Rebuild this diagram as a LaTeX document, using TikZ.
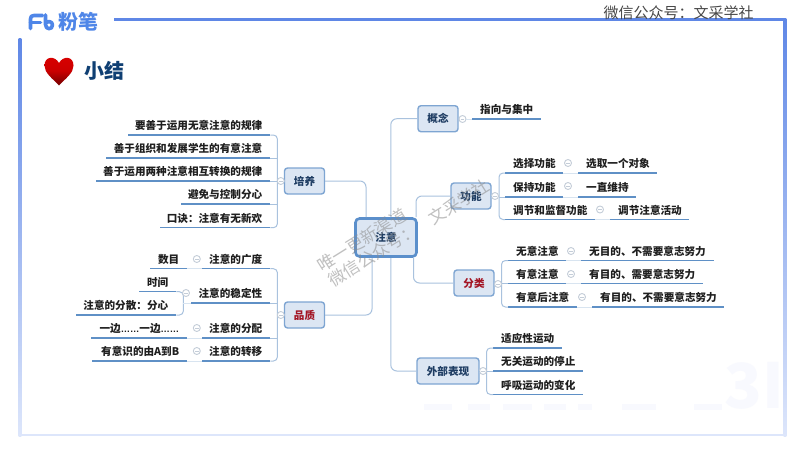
\documentclass[tikz,border=0pt]{standalone}
\usepackage{fontspec}
\setmainfont{Noto Sans CJK SC}
\newfontfamily\latinf{Liberation Sans}
\usetikzlibrary{calc}
\definecolor{frameblue}{HTML}{5F87E6}
\definecolor{framepale}{HTML}{DDE6FB}
\definecolor{boxfill}{HTML}{DCE6F3}
\definecolor{boxline}{HTML}{7EA5D2}
\definecolor{rootline}{HTML}{5B8FCB}
\definecolor{underl}{HTML}{5F90C6}
\definecolor{brack}{HTML}{A9C2DE}
\definecolor{foldc}{HTML}{C4CDD8}
\definecolor{labelc}{HTML}{1F3D63}
\definecolor{redc}{HTML}{A31524}
\definecolor{titlec}{HTML}{0F3F73}
\definecolor{logoc}{HTML}{4F86E8}
\definecolor{ghost}{HTML}{F8F9FE}
\tikzset{
  topicbox/.style={draw=boxline,line width=1.4pt,fill=boxfill,rounded corners=3pt,inner sep=0pt,
    font=\fontsize{10.6}{12}\selectfont\bfseries,text=labelc},
  rootbox/.style={topicbox,draw=rootline,line width=2.6pt,rounded corners=4pt},
  leafbase/.style={inner sep=0pt,minimum height=20pt,anchor=south west,
    font=\fontsize{10.6}{12}\selectfont\bfseries,text=black!88},
  under/.style={draw=underl,line width=1.5pt},
  branch/.style={draw=brack,line width=1pt,rounded corners=4pt},
  bridge/.style={draw=brack!45,line width=.8pt},
  fold/.style={circle,draw=foldc,fill=white,line width=.9pt,minimum size=7pt,inner sep=0pt,
    path picture={\draw[foldc,line width=.7pt] ($(path picture bounding box.center)+(-1.8,0)$) -- ($(path picture bounding box.center)+(1.8,0)$);}},
  wmark/.style={font=\fontsize{17}{19}\selectfont,text=black!45,opacity=.55,rotate=32,inner sep=0pt},
  logostroke/.style={draw=logoc,line width=3.6pt,line cap=round,line join=round}
}
% name, x1, x2, y(bottom), text
\newcommand{\leafR}[5]{\node[leafbase] (#1) at (#2,#4+.7) {\makebox[\dimexpr #3pt-#2pt\relax][l]{\hspace*{8pt}#5\hfill}};
  \draw[under] (#1.south west) ++(0,-.7) -- ($(#1.south east)+(0,-.7)$);}
\newcommand{\leafL}[5]{\node[leafbase] (#1) at (#2,#4+.7) {\makebox[\dimexpr #3pt-#2pt\relax][r]{\hfill #5\hspace*{8pt}}};
  \draw[under] (#1.south west) ++(0,-.7) -- ($(#1.south east)+(0,-.7)$);}
\begin{document}
\begin{tikzpicture}[x=1pt,y=-1pt]
\useasboundingbox (0,0) rectangle (800,450);
\fill[white] (0,0) rectangle (800,450);
% faint background marks
\node[font=\fontsize{62}{62}\selectfont\bfseries,text=ghost,inner sep=0pt] (bgmark) at (754,386) {3I};
\foreach \a/\b in {424/452,468/490,503/532,544/566,578/592,622/656,694/722}
  \fill[ghost] (\a,404) rectangle (\b,410);
% frame
\shade[top color=frameblue,bottom color=framepale] (18.7,38) rectangle (21.3,436);
\shade[top color=frameblue,bottom color=framepale] (783.7,18) rectangle (786.3,436);
\fill[framepale] (18.7,434) rectangle (786.3,436.4);
\fill[frameblue] (114,17.8) rectangle (786.3,20.6);
% logo
\draw[logostroke] (30.5,28.5) -- (30.5,19) .. controls (30.5,16.5) and (31.5,15.5) .. (34,15.5) -- (42.5,15.5);
\draw[logostroke] (30.5,22.5) -- (40.5,22.5);
\draw[logostroke] (45.5,15) -- (45.5,24.5) .. controls (45.5,30) and (52.5,30) .. (52.5,25) .. controls (52.5,21) and (47.5,20.8) .. (46,23);
\node[font=\fontsize{20}{20}\selectfont\bfseries,text=logoc,inner sep=0pt] (logob) at (78,21.5) {粉笔};
% top note
\node[font=\fontsize{15}{17}\selectfont,text=black!72,inner sep=0pt] (note) at (678.5,13) {微信公众号：文采学社};
% heart and title
\shade[top color=red!85!black,bottom color=red!45!black,middle color=red!80!black]
  (59,85.5) .. controls (52,78) and (44.5,73) .. (44.5,65.5)
  .. controls (44.5,56) and (55,55.5) .. (59,63)
  .. controls (63,55.5) and (73.5,56) .. (73.5,65.5)
  .. controls (73.5,73) and (66,78) .. (59,85.5) -- cycle;
\node[font=\fontsize{20}{22}\selectfont\bfseries,text=titlec,inner sep=0pt] (title) at (104.5,71) {小结};

% central and main topics
\node[rootbox,minimum width=61pt,minimum height=38pt] (root) at (386,237.5) {注意};
\node[topicbox,minimum width=40pt,minimum height=26pt] (peiyang) at (304.5,181) {培养};
\node[topicbox,minimum width=40pt,minimum height=26pt,text=redc] (pinzhi) at (304.5,315) {品质};
\node[topicbox,minimum width=40pt,minimum height=26pt] (gainian) at (438,118.7) {概念};
\node[topicbox,minimum width=40pt,minimum height=26pt] (gongneng) at (471,196) {功能};
\node[topicbox,minimum width=40pt,minimum height=26pt,text=redc] (fenlei) at (474,283) {分类};
\node[topicbox,minimum width=62pt,minimum height=26pt] (waibu) at (448,371) {外部表现};

% trunk connectors, each ending on the border of the root box
\draw[branch,rounded corners=6pt] (peiyang.east) -- (366,181) -- (366,217);
\draw[branch,rounded corners=6pt] (pinzhi.east) -- (372,315) -- (372,258);
\draw[branch,rounded corners=6pt] (gainian.west) -- (390.8,118.7) -- (390.8,217);
\draw[branch,rounded corners=6pt] (gongneng.west) -- (416,196) -- (416,217);
\draw[branch,rounded corners=6pt] (fenlei.west) -- (413.5,283) -- (413.5,258);
\draw[branch,rounded corners=6pt] (waibu.west) -- (390.8,371) -- (390.8,258);

% peiyang leaves
\leafL{pa}{128}{270}{135}{要善于运用无意注意的规律}
\leafL{pb}{106}{270}{158}{善于组织和发展学生的有意注意}
\leafL{pc}{96}{270}{181}{善于运用两种注意相互转换的规律}
\leafL{pd}{181}{270}{204}{避免与控制分心}
\leafL{pe}{160}{270}{227.7}{口诀：注意有无新欢}
\draw[branch] ($(pa.south east)+(0,-.7)$) -- ($(pa.south east)+(7,-.7)$) -- ($(pe.south east)+(7,-.7)$) -- ($(pe.south east)+(0,-.7)$);
\draw[branch] ($(pb.south east)+(0,-.7)$) -- ($(pb.south east)+(7,-.7)$);
\draw[branch] ($(pc.south east)+(0,-.7)$) -- ($(pc.south east)+(7,-.7)$);
\draw[branch] ($(pd.south east)+(0,-.7)$) -- ($(pd.south east)+(7,-.7)$);
\node[fold] (fp) at (280.8,181) {};
\draw[branch] (fp) -- (peiyang.west);

% pinzhi leaves
\leafL{qa}{202}{270}{268.7}{注意的广度}
\leafL{qa1}{150}{187}{268.7}{数目}
\leafL{qb}{191}{270}{303}{注意的稳定性}
\leafL{qb1}{139}{176}{291.7}{时间}
\leafL{qb2}{76}{176}{315}{注意的分散：分心}
\leafL{qc}{202}{270}{338}{注意的分配}
\leafL{qc1}{91}{187}{338}{一边{\latinf\fontsize{9.3}{12}\selectfont ……}一边{\latinf\fontsize{9.3}{12}\selectfont ……}}
\leafL{qd}{202}{270}{361}{注意的转移}
\leafL{qd1}{92}{187}{361}{有意识的由A到B}
\draw[branch] ($(qa.south east)+(0,-.7)$) -- ($(qa.south east)+(7,-.7)$) -- ($(qd.south east)+(7,-.7)$) -- ($(qd.south east)+(0,-.7)$);
\draw[branch] ($(qb.south east)+(0,-.7)$) -- ($(qb.south east)+(7,-.7)$);
\draw[branch] ($(qc.south east)+(0,-.7)$) -- ($(qc.south east)+(7,-.7)$);
\draw[branch] ($(qb1.south east)+(0,-.7)$) -- ($(qb1.south east)+(7,-.7)$) -- ($(qb2.south east)+(7,-.7)$) -- ($(qb2.south east)+(0,-.7)$);
\draw[bridge] ($(qb.south west)+(0,-.7)$) -- (183,303);
\draw[bridge] ($(qa.south west)+(0,-.7)$) -- ($(qa1.south east)+(0,-.7)$);
\draw[bridge] ($(qc.south west)+(0,-.7)$) -- ($(qc1.south east)+(0,-.7)$);
\draw[bridge] ($(qd.south west)+(0,-.7)$) -- ($(qd1.south east)+(0,-.7)$);
\node[fold] (fq) at (280.8,315) {};
\draw[branch] (fq) -- (pinzhi.west);
\node[fold] (fqa) at (196.8,259) {};
\node[fold] (fqb) at (186,293) {};
\node[fold] (fqc) at (196.8,328) {};
\node[fold] (fqd) at (196.8,351) {};

% gainian
\leafR{ga}{472}{541}{119}{指向与集中}
\node[fold] (fg) at (462.5,119) {};
\draw[branch] (gainian.east) -- (fg);
\draw[bridge] (fg) -- ($(ga.south west)+(0,-.7)$);

% gongneng
\leafR{na}{505}{563}{173}{选择功能}
\leafR{na1}{578}{657}{173}{选取一个对象}
\leafR{nb}{505}{563}{197}{保持功能}
\leafR{nb1}{578}{636}{197}{一直维持}
\leafR{nc}{505}{595}{219.5}{调节和监督功能}
\leafR{nc1}{610}{689}{219.5}{调节注意活动}
\draw[branch] ($(na.south west)+(0,-.7)$) -- ($(na.south west)+(-6,-.7)$) -- ($(nc.south west)+(-6,-.7)$) -- ($(nc.south west)+(0,-.7)$);
\draw[branch] ($(nb.south west)+(0,-.7)$) -- ($(nb.south west)+(-6,-.7)$);
\draw[bridge] ($(na.south east)+(0,-.7)$) -- ($(na1.south west)+(0,-.7)$);
\draw[bridge] ($(nb.south east)+(0,-.7)$) -- ($(nb1.south west)+(0,-.7)$);
\draw[bridge] ($(nc.south east)+(0,-.7)$) -- ($(nc1.south west)+(0,-.7)$);
\node[fold] (fn) at (495,196) {};
\draw[branch] (gongneng.east) -- (fn);
\node[fold] (fna) at (568,163) {};
\node[fold] (fnb) at (568,186) {};
\node[fold] (fnc) at (600,209.5) {};

% fenlei
\leafR{ca}{508}{566}{260.5}{无意注意}
\leafR{ca1}{581}{713.5}{260.5}{无目的、不需要意志努力}
\leafR{cb}{508}{566}{283.5}{有意注意}
\leafR{cb1}{581}{703}{283.5}{有目的、需要意志努力}
\leafR{cc}{508}{577}{307}{有意后注意}
\leafR{cc1}{592}{724}{307}{有目的、不需要意志努力}
\draw[branch] ($(ca.south west)+(0,-.7)$) -- ($(ca.south west)+(-6.5,-.7)$) -- ($(cc.south west)+(-6.5,-.7)$) -- ($(cc.south west)+(0,-.7)$);
\draw[branch] ($(cb.south west)+(0,-.7)$) -- ($(cb.south west)+(-6.5,-.7)$);
\draw[bridge] ($(ca.south east)+(0,-.7)$) -- ($(ca1.south west)+(0,-.7)$);
\draw[bridge] ($(cb.south east)+(0,-.7)$) -- ($(cb1.south west)+(0,-.7)$);
\draw[bridge] ($(cc.south east)+(0,-.7)$) -- ($(cc1.south west)+(0,-.7)$);
\node[fold] (fc) at (498,284) {};
\draw[branch] (fenlei.east) -- (fc);
\node[fold] (fca) at (571,251) {};
\node[fold] (fcb) at (571,274) {};
\node[fold] (fcc) at (582,297) {};

% waibu
\leafR{wa}{493}{562}{348}{适应性运动}
\leafR{wb}{493}{583}{371}{无关运动的停止}
\leafR{wc}{493}{583}{394.5}{呼吸运动的变化}
\draw[branch] ($(wa.south west)+(0,-.7)$) -- ($(wa.south west)+(-6.5,-.7)$) -- ($(wc.south west)+(-6.5,-.7)$) -- ($(wc.south west)+(0,-.7)$);
\draw[branch] ($(wb.south west)+(0,-.7)$) -- ($(wb.south west)+(-6.5,-.7)$);
\node[fold] (fw) at (483,371) {};
\draw[branch] (waibu.east) -- (fw);

% watermark
\node[wmark] (wm1) at (362,240) {唯一更新渠道};
\node[wmark] (wm2) at (459,202) {文采学社};
\node[wmark] (wm3) at (373,255) {微信公众号：};
\end{tikzpicture}
\end{document}
